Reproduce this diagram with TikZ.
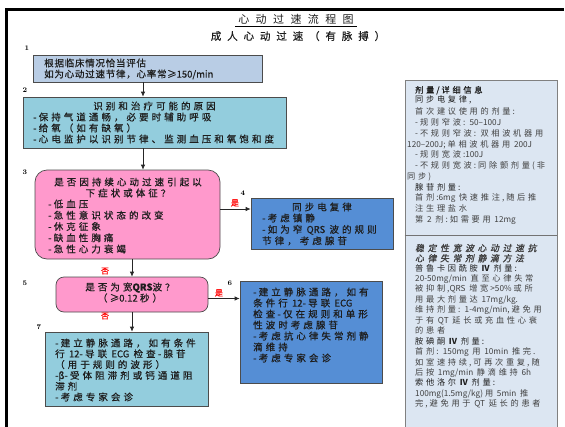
\documentclass[tikz,border=0pt]{standalone}
\usepackage{fontspec}
\usetikzlibrary{arrows.meta}
% CJK faces
\newfontfamily\cjkfont{Noto Sans CJK SC}
\newfontfamily\cjkbold[FakeBold=0.6]{Noto Sans CJK SC}
\newfontfamily\cjkslant[FakeSlant=0.2,FakeBold=1.5]{Noto Sans CJK SC}
% extra tracking between ideographs only (Latin runs keep their natural width)
\newcommand\cjkls{0.3}
\newcommand\setgap[1]{\renewcommand\cjkls{#1}}
\newXeTeXintercharclass\cjkclass
\newcount\cjkc
\cjkc="4E00
\loop\XeTeXcharclass\cjkc=\cjkclass\ifnum\cjkc<"9FFF\advance\cjkc by 1\repeat
\cjkc="3000
\loop\XeTeXcharclass\cjkc=\cjkclass\ifnum\cjkc<"303F\advance\cjkc by 1\repeat
\cjkc="FF00
\loop\XeTeXcharclass\cjkc=\cjkclass\ifnum\cjkc<"FFEF\advance\cjkc by 1\repeat
\XeTeXinterchartoks\cjkclass\cjkclass={\kern\cjkls em\relax}
\XeTeXinterchartoks\cjkclass 0={\kern\dimexpr\cjkls em*3/4\relax}
\XeTeXinterchartoks 0\cjkclass={\kern\dimexpr\cjkls em*3/4\relax}
\XeTeXinterchartokenstate=1
\definecolor{boxA}{HTML}{B9CDE5}
\definecolor{boxB}{HTML}{93CDDD}
\definecolor{boxPink}{HTML}{FF99CC}
\definecolor{boxBlue}{HTML}{558ED5}
\definecolor{panelC}{HTML}{DCE6F2}
\definecolor{inkC}{HTML}{1E1E1E}
\definecolor{softC}{HTML}{404040}
% a stack of lines whose base is the first line's baseline
\newcommand\txtlines[2]{\vtop{\baselineskip=#1\lineskiplimit=-50pt\lineskip=0pt\relax #2}}
\newcommand\rowbox[1]{\hbox{#1}}
\newcommand\midrow[1]{\hbox to 0pt{\hss #1\hss}}
\newcommand\boxfont{\cjkbold\fontsize{9.5}{11}\selectfont\setgap{0.32}\spaceskip=0.45em\relax}
\newcommand\panelfont{\cjkfont\fontsize{8.2}{10}\selectfont\setgap{0.33}\spaceskip=0.45em\relax}
\tikzset{
  flow/.style={draw=black!70, line width=0.7pt, inner sep=0pt},
  stepA/.style={flow, fill=boxA},
  stepB/.style={flow, fill=boxB},
  askbox/.style={flow, fill=boxPink, rounded corners=#1},
  actbox/.style={flow, fill=boxBlue},
  panel/.style={draw=black!50, line width=0.7pt, fill=panelC, inner sep=0pt},
  txt/.style={inner sep=0pt, text=inkC, anchor=base west},
  ctxt/.style={inner sep=0pt, text=inkC, anchor=base},
  tag/.style={inner sep=0pt, font=\bfseries\fontsize{7}{8}\selectfont},
  yesno/.style={inner sep=0pt, text=red, font=\cjkbold\fontsize{8}{9}\selectfont},
  arr/.style={draw=black!85, line width=0.7pt, -{Latex[length=5pt,width=4.5pt]}},
}
\begin{document}
\begin{tikzpicture}[x=1pt,y=-1pt]
\useasboundingbox (0,0) rectangle (565,426);
\fill[white] (0,0) rectangle (565,426);

% page frame
\draw[line width=3pt] (6,430) -- (6,9.5) -- (564,9.5);

% headings
\node[ctxt] (title) at (296,23.5) {\cjkfont\fontsize{11}{13}\selectfont\setgap{0.58}心动过速流程图};
\draw[line width=0.6pt] (235,25.8) -- (357,25.8);
\node[ctxt] (subtitle) at (298,40) {\cjkbold\fontsize{10.5}{12}\selectfont\setgap{0.56}成人心动过速（有脉搏）};

% step boxes
\node[stepA, minimum width=229pt, minimum height=27pt] (b1) at (147.5,68.5) {};
\node[stepB, minimum width=263pt, minimum height=51pt] (b2) at (154.5,122.5) {};
\node[askbox=12pt, minimum width=185pt, minimum height=89pt] (b3) at (127.5,214.5) {};
\node[actbox, minimum width=142pt, minimum height=51pt] (b4) at (322,223.5) {};
\node[askbox=8pt, minimum width=152pt, minimum height=35pt] (b5) at (132,294.5) {};
\node[actbox, minimum width=142pt, minimum height=102pt] (b6) at (311,332) {};
\node[stepB, minimum width=163pt, minimum height=74pt] (b7) at (126.5,369) {};

% dosage panels
\node[panel, minimum width=152pt, minimum height=155pt] (dose) at (481,157.5) {};
\node[panel, minimum width=152pt, minimum height=200pt] (ivdose) at (481,335) {};
\draw[black!55, line width=1.6pt] (dose.south west) -- (dose.south east);

% step numbers
\node[tag] (n1) at (27,48) {1};
\node[tag] (n2) at (25,90) {2};
\node[tag] (n3) at (25,172) {3};
\node[tag] (n4) at (243,193) {4};
\node[tag] (n5) at (25,283) {5};
\node[tag] (n6) at (230,283) {6};
\node[tag] (n7) at (39,327) {7};

% box texts
\node[txt] (t1) at (44,66.6) {\cjkbold\fontsize{9.5}{11}\selectfont\setgap{0.08}\txtlines{11pt}{%
  \rowbox{根据临床情况恰当评估}
  \rowbox{如为心动过速节律，心率常≥150/min}}};

\node[ctxt] (t2h) at (154.5,109.6) {\boxfont 识别和治疗可能的原因};
\node[txt] (t2) at (33,120.6) {\boxfont\txtlines{11pt}{%
  \rowbox{-保持气道通畅，必要时辅助呼吸}
  \rowbox{-给氧（如有缺氧）}
  \rowbox{-心电监护以识别节律、监测血压和氧饱和度}}};

\node[ctxt] (t3h) at (128,185.6) {\boxfont\txtlines{11pt}{%
  \midrow{是否因持续心动过速引起以}
  \midrow{下症状或体征？}}};
\node[txt] (t3) at (48,207.6) {\boxfont\txtlines{11.25pt}{%
  \rowbox{-低血压}
  \rowbox{-急性意识状态的改变}
  \rowbox{-休克征象}
  \rowbox{-缺血性胸痛}
  \rowbox{-急性心力衰竭}}};

\node[ctxt] (t4h) at (322,210.6) {\boxfont 同步电复律};
\node[txt] (t4) at (262,221.6) {\boxfont\txtlines{11.4pt}{%
  \rowbox{-考虑镇静}
  \rowbox{-如为窄 QRS 波的规则}
  \rowbox{节律，考虑腺苷}}};

\node[ctxt] (t5) at (130,290.6) {\boxfont\txtlines{11pt}{%
  \midrow{是否为宽\textbf{QRS}波？}
  \midrow{（≥0.12秒）}}};

\node[txt] (t6) at (253,295.6) {\boxfont\txtlines{11pt}{%
  \rowbox{-建立静脉通路，如有}
  \rowbox{条件行 12-导联 ECG}
  \rowbox{检查-仅在规则和单形}
  \rowbox{性波时考虑腺苷}
  \rowbox{-考虑抗心律失常剂静}
  \rowbox{滴维持}
  \rowbox{-考虑专家会诊}}};

\node[txt] (t7) at (55,346.6) {\boxfont\txtlines{10.8pt}{%
  \rowbox{-建立静脉通路，如有条件}
  \rowbox{行 12-导联 ECG 检查-腺苷}
  \rowbox{（用于规则的波形）}
  \rowbox{-β-受体阻滞剂或钙通道阻}
  \rowbox{滞剂}
  \rowbox{-考虑专家会诊}}};

% dosage texts
\node[txt] (d1) at (415,93) {\panelfont\txtlines{10.75pt}{%
  \rowbox{\color{inkC}\cjkbold 剂量/详细信息}\vskip-1.6pt
  \rowbox{\color{inkC}同步电复律,}\vskip2pt
  \rowbox{\color{softC}首次建议使用的剂量:}
  \rowbox{\color{softC}-规则窄波: 50–100J}
  \rowbox{\color{softC}-不规则窄波: 双相波机器用}
  \rowbox{\color{softC}\kern-8pt 120–200J;单相波机器用 200J}
  \rowbox{\color{softC}-规则宽波:100J}
  \rowbox{\color{softC}-不规则宽波:同除颤剂量(非}
  \rowbox{\color{softC}\kern-8pt 同步)}
  \rowbox{\color{inkC}腺苷剂量:}
  \rowbox{\color{softC}首剂:6mg 快速推注,随后推}
  \rowbox{\color{softC}注生理盐水}
  \rowbox{\color{softC}第 2 剂:如需要用 12mg}}};

\node[txt] (d2h) at (415,251.4) {\cjkslant\fontsize{8.8}{10}\selectfont\setgap{0.42}\txtlines{10.2pt}{%
  \rowbox{\color{softC}稳定性宽波心动过速抗}
  \rowbox{\color{softC}心律失常剂静滴方法}}};
\node[txt] (d2) at (415,271) {\panelfont\txtlines{10.45pt}{%
  \rowbox{\color{inkC}普鲁卡因酰胺 \textbf{IV} 剂量:}
  \rowbox{\color{softC}20-50mg/min 直至心律失常}
  \rowbox{\color{softC}被抑制,QRS 增宽>50\%或所}
  \rowbox{\color{softC}用最大剂量达 17mg/kg.}
  \rowbox{\color{softC}维持剂量: 1-4mg/min,避免用}
  \rowbox{\color{softC}于有 QT 延长或充血性心衰}
  \rowbox{\color{softC}的患者}
  \rowbox{\color{inkC}胺碘酮 \textbf{IV} 剂量:}
  \rowbox{\color{softC}首剂: 150mg 用 10min 推完.}
  \rowbox{\color{softC}如室速持续,可再次重复,随}
  \rowbox{\color{softC}后按 1mg/min 静滴维持 6h}
  \rowbox{\color{inkC}索他洛尔 \textbf{IV} 剂量:}
  \rowbox{\color{softC}100mg(1.5mg/kg)用 5min 推}
  \rowbox{\color{softC}完,避免用于 QT 延长的患者}}};

% connectors
\coordinate (ax1) at (143,0);
\coordinate (ax2) at (132,0);
\coordinate (ay1) at (0,209);
\coordinate (ay2) at (0,298.5);
\draw[arr] (b1.south -| ax1) -- (b2.north -| ax1);
\draw[arr] (b2.south -| ax1) -- (b3.north -| ax1);
\draw[arr] (b3.east |- ay1) -- (b4.west |- ay1);
\draw[arr] (b3.south -| ax2) -- (b5.north -| ax2);
\draw[arr] (b5.east |- ay2) -- (b6.west |- ay2);
\draw[arr] (b5.south -| ax2) -- (b7.north -| ax2);

% branch labels
\node[yesno] (y1) at (235,203) {是};
\node[yesno] (no1) at (105,271) {否};
\node[yesno] (y2) at (219,293) {是};
\node[yesno] (no2) at (105,316) {否};
\end{tikzpicture}
\end{document}
